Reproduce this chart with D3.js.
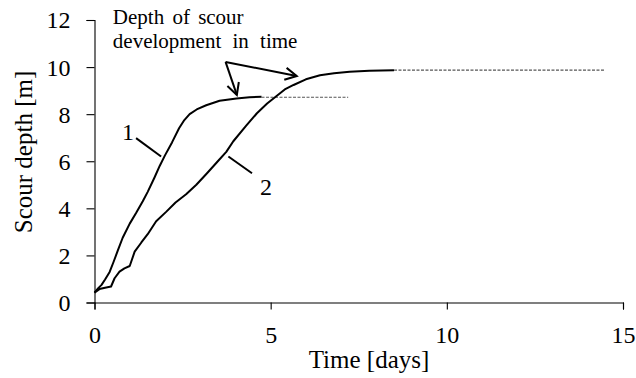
<!DOCTYPE html>
<html>
<head>
<meta charset="utf-8">
<script src="https://cdn.jsdelivr.net/npm/d3@7"></script>
<style>
  html, body { margin: 0; padding: 0; background: #fff; }
  svg { display: block; }
  text { font-family: "Liberation Serif", "Times New Roman", serif; fill: #000; }
</style>
</head>
<body>
<svg id="chart" width="636" height="378"></svg>
<script>
// ---- data ----
const xTicks = [0, 5, 10, 15];
const yTicks = [0, 2, 4, 6, 8, 10, 12];
const xTitle = "Time [days]";
const yTitle = "Scour depth [m]";

// curve 1: time [days], scour depth [m]
const curve1Time  = [0, 0.1, 0.2, 0.3, 0.43, 0.54, 0.66, 0.8, 1.0, 1.18, 1.37, 1.51, 1.7, 1.85, 2.0, 2.2, 2.4, 2.55, 2.7, 2.9, 3.17, 3.55, 4.03, 4.4, 4.74];
const curve1Depth = [0.42, 0.6, 0.75, 0.98, 1.3, 1.72, 2.2, 2.75, 3.35, 3.8, 4.3, 4.7, 5.3, 5.8, 6.25, 6.8, 7.4, 7.75, 8.0, 8.2, 8.38, 8.57, 8.67, 8.72, 8.74];
// curve 1 extrapolated (dotted)
const curve1ExtTime  = [4.74, 7.2];
const curve1ExtDepth = [8.72, 8.72];

// curve 2
const curve2Time  = [0, 0.14, 0.3, 0.47, 0.57, 0.71, 0.85, 1.0, 1.14, 1.33, 1.51, 1.75, 2.04, 2.3, 2.6, 2.89, 3.2, 3.5, 3.74, 3.94, 4.3, 4.61, 4.9, 5.15, 5.4, 5.65, 6.0, 6.4, 6.8, 7.24, 7.8, 8.5];
const curve2Depth = [0.42, 0.57, 0.63, 0.68, 1.03, 1.31, 1.45, 1.55, 2.16, 2.55, 2.9, 3.45, 3.86, 4.25, 4.6, 5.0, 5.5, 6.0, 6.4, 6.85, 7.5, 8.04, 8.45, 8.75, 9.05, 9.24, 9.48, 9.65, 9.74, 9.80, 9.84, 9.87];
const curve2ExtTime  = [8.5, 14.5];
const curve2ExtDepth = [9.87, 9.87];

// annotations (in data coordinates)
const noteLines = ["Depth of scour", "development in time"];
const notePos = [[0.52, 11.81], [0.52, 10.79]];
const noteWordSpacing = [3, 6];
const arrowStart = [3.72, 10.22];
const arrowTips = [[4.04, 8.82], [5.74, 9.62]];
const curveLabels = ["1", "2"];
const curveLabelPos = [[0.95, 6.91], [4.87, 4.57]];
const leaderFrom = [[1.18, 6.98], [3.80, 6.2]];
const leaderTo = [[1.89, 6.2], [4.47, 5.49]];

// ---- layout ----
const svg = d3.select("#chart");
const x = d3.scaleLinear().domain([0, 15]).range([94.5, 623]);
const y = d3.scaleLinear().domain([0, 12]).range([302.5, 20]);

// axes
const gx = svg.append("g").attr("transform", "translate(0,302.5)")
  .call(d3.axisBottom(x).tickValues(xTicks).tickSize(7).tickPadding(8).tickFormat(d3.format("d")));
const gy = svg.append("g").attr("transform", "translate(94.5,0)")
  .call(d3.axisLeft(y).tickValues(yTicks).tickSize(8).tickPadding(16).tickFormat(d3.format("d")));
[gx, gy].forEach(g => {
  g.selectAll("path, line").attr("stroke", "#000").attr("stroke-width", 1.1);
  g.selectAll("text").attr("font-family", "Liberation Serif").attr("font-size", 24).attr("fill", "#000");
});
gx.selectAll("text").attr("dy", "0.71em").attr("y", 23);
gy.selectAll("text").attr("dy", "0.33em");

// titles
svg.append("text").attr("x", 369).attr("y", 368).attr("text-anchor", "middle")
  .attr("font-size", 25).text(xTitle);
svg.append("text").attr("transform", "translate(32,152) rotate(-90)").attr("text-anchor", "middle")
  .attr("font-size", 25).text(yTitle);

const line = d3.line().x(d => x(d[0])).y(d => y(d[1]));
const zip = (a, b) => a.map((v, i) => [v, b[i]]);

// dotted extrapolations
[[curve1ExtTime, curve1ExtDepth], [curve2ExtTime, curve2ExtDepth]].forEach(([t, v]) => {
  svg.append("path").datum(zip(t, v)).attr("d", line)
    .attr("fill", "none").attr("stroke", "#555").attr("stroke-width", 1.1)
    .attr("stroke-dasharray", "3,1.5");
});

// curves
[[curve1Time, curve1Depth], [curve2Time, curve2Depth]].forEach(([t, v]) => {
  svg.append("path").datum(zip(t, v)).attr("d", line)
    .attr("fill", "none").attr("stroke", "#000").attr("stroke-width", 2)
    .attr("stroke-linejoin", "round");
});

// annotation text
noteLines.forEach((s, i) => {
  svg.append("text").attr("x", x(notePos[i][0])).attr("y", y(notePos[i][1]))
    .attr("font-size", 21).attr("word-spacing", noteWordSpacing[i]).text(s);
});

// arrows
arrowTips.forEach(tip => {
  const x0 = x(arrowStart[0]), y0 = y(arrowStart[1]);
  const x1 = x(tip[0]), y1 = y(tip[1]);
  svg.append("line").attr("x1", x0).attr("y1", y0).attr("x2", x1).attr("y2", y1)
    .attr("stroke", "#000").attr("stroke-width", 2);
  const ang = Math.atan2(y1 - y0, x1 - x0);
  const L = 13, spread = Math.PI / 6.5;
  const wing = s => [x1 - L * Math.cos(ang + s), y1 - L * Math.sin(ang + s)];
  const w1 = wing(spread), w2 = wing(-spread);
  svg.append("path").attr("d", `M${w1[0]},${w1[1]}L${x1},${y1}L${w2[0]},${w2[1]}`)
    .attr("fill", "none").attr("stroke", "#000").attr("stroke-width", 2);
});

// curve labels and leader lines
curveLabels.forEach((s, i) => {
  svg.append("text").attr("x", x(curveLabelPos[i][0])).attr("y", y(curveLabelPos[i][1]))
    .attr("text-anchor", "middle").attr("font-size", 24).text(s);
  svg.append("line")
    .attr("x1", x(leaderFrom[i][0])).attr("y1", y(leaderFrom[i][1]))
    .attr("x2", x(leaderTo[i][0])).attr("y2", y(leaderTo[i][1]))
    .attr("stroke", "#000").attr("stroke-width", 2);
});
</script>
</body>
</html>
